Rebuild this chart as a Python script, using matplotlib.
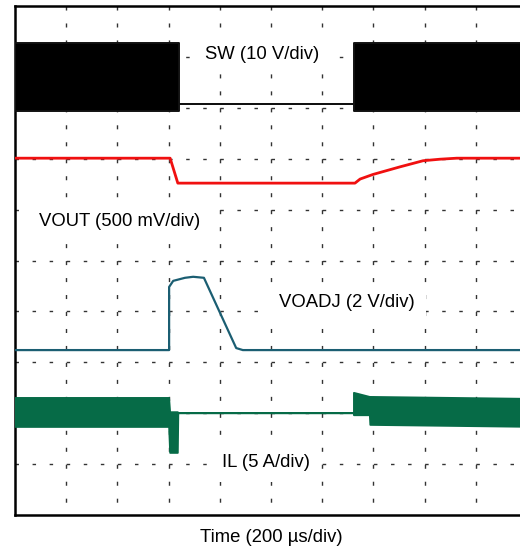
import matplotlib
matplotlib.use("Agg")
import matplotlib.pyplot as plt
import numpy as np

plt.rcParams['font.family'] = ['Liberation Sans', 'DejaVu Sans']
plt.rcParams['lines.scale_dashes'] = False

# scope traces, in divisions (10 x 10 screen, y = 0 at bottom)
# SW: switching band envelope
sw_t = [0.0, 3.20, 3.20, 6.62, 6.62, 10.2]
sw_top = [9.27, 9.27, 8.07, 8.07, 9.27, 9.27]
sw_bot = [7.94, 7.94, 8.07, 8.07, 7.94, 7.94]

# VOUT
vout_t = [0.0, 3.03, 3.18, 6.64, 6.74, 6.99, 7.52, 7.97, 8.30, 8.63, 10.2]
vout_v = [7.01, 7.01, 6.52, 6.52, 6.60, 6.69, 6.84, 6.96, 6.99, 7.01, 7.01]

# VOADJ
voadj_t = [0.0, 3.01, 3.01, 3.09, 3.32, 3.48, 3.69, 4.32, 4.45, 10.2]
voadj_v = [3.24, 3.24, 4.48, 4.60, 4.66, 4.68, 4.66, 3.28, 3.24, 3.24]

# IL: ripple band envelope
il_t = [0.0, 3.01, 3.03, 3.18, 3.19, 6.62, 6.62, 6.93, 6.94, 10.2]
il_top = [2.30, 2.30, 2.02, 2.02, 2.00, 2.00, 2.40, 2.32, 2.32, 2.28]
il_bot = [1.73, 1.73, 1.22, 1.22, 2.00, 2.00, 1.96, 1.96, 1.77, 1.73]

grid_x = [1, 2, 3, 4, 5, 6, 7, 8, 9, 10]
grid_y = [1, 2, 3, 4, 5, 6, 7, 8, 9]

fig = plt.figure(figsize=(5.2, 5.5), dpi=100)
ax = fig.add_axes([15 / 520, 35 / 550, 512 / 520, 509 / 550])
ax.set_xlim(0, 10)
ax.set_ylim(0, 10)
ax.set_xticks([])
ax.set_yticks([])
for s in ['left', 'top', 'bottom', 'right']:
    ax.spines[s].set_linewidth(1.8)
    ax.spines[s].set_color('black')

# dashed scope graticule
grid_col = '#333333'
ax.vlines(grid_x, 10, 0, colors=grid_col, linewidth=1.0,
          linestyles=[(0, (2.9, 9.32))], zorder=1)
ax.hlines(grid_y, 0, 10.2, colors=grid_col, linewidth=1.0,
          linestyles=[(0, (2.5, 9.79))], zorder=1)

# traces
ax.fill_between(sw_t, sw_bot, sw_top, facecolor='black', edgecolor='#111111',
                linewidth=1.4, zorder=3)
ax.plot(vout_t, vout_v, color='#f01010', linewidth=2.0, zorder=3)
ax.plot(voadj_t, voadj_v, color='#1b5e72', linewidth=1.6, zorder=3)
ax.fill_between(il_t, il_bot, il_top, facecolor='#066b47', edgecolor='#066b47',
                linewidth=1.3, zorder=3)

box = dict(facecolor='white', edgecolor='none', pad=8)
fs = 13.3
ax.text(4.82, 9.04, 'SW (10 V/div)', fontsize=fs, ha='center', va='center', bbox=box, zorder=2)
ax.text(2.05, 5.76, 'VOUT (500 mV/div)', fontsize=fs, ha='center', va='center', bbox=box, zorder=2)
ax.text(6.48, 4.18, 'VOADJ (2 V/div)', fontsize=fs, ha='center', va='center', bbox=box, zorder=2)
ax.text(4.91, 1.04, 'IL (5 A/div)', fontsize=fs, ha='center', va='center', bbox=box, zorder=2)

fig.text(271 / 520, 1 - 537 / 550, 'Time (200 µs/div)', fontsize=fs, ha='center', va='center')

fig.savefig('out.png', dpi=100)
